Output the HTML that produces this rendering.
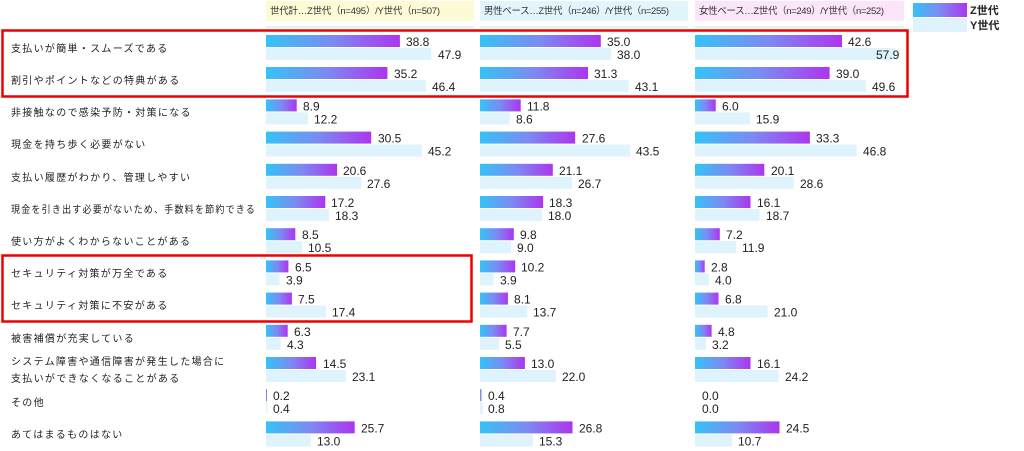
<!DOCTYPE html>
<html><head><meta charset="utf-8"><style>
body{margin:0;background:#fff;width:1024px;height:451px;overflow:hidden}
svg{display:block}
.l{font-family:"Liberation Sans","Noto Sans CJK JP",sans-serif;font-size:10px;fill:#222;letter-spacing:1.3px}
.v{font-family:"Liberation Sans",sans-serif;font-size:12px;fill:#222}
.h{font-family:"Liberation Sans","Noto Sans CJK JP",sans-serif;font-size:9.5px;fill:#333}
.z{fill:url(#g)}.y{fill:#def3fb}
</style></head><body>
<svg width="1024" height="451" xmlns="http://www.w3.org/2000/svg">
<defs><linearGradient id="g" x1="0" x2="1" y1="0" y2="0"><stop offset="0" stop-color="#35c3f6"/><stop offset="0.5" stop-color="#7c8af2"/><stop offset="1" stop-color="#ad35ef"/></linearGradient></defs>
<rect x="266" y="1" width="208" height="20" fill="#fdfbd6"/><text class="h" x="270" y="14" textLength="170">世代計…Z世代（n=495）/Y世代（n=507)</text>
<rect x="480" y="1" width="208" height="20" fill="#e1f5fb"/><text class="h" x="484" y="14" textLength="185">男性ベース…Z世代（n=246）/Y世代（n=255)</text>
<rect x="695" y="1" width="209" height="20" fill="#fce4fa"/><text class="h" x="699" y="14" textLength="185">女性ベース…Z世代（n=249）/Y世代（n=252)</text>
<rect x="913" y="3" width="54" height="14" class="z"/><rect x="913" y="18" width="54" height="14" class="y"/>
<text x="970" y="14" style="font-family:'Liberation Sans','Noto Sans CJK JP',sans-serif;font-size:11px;font-weight:bold;fill:#222">Z世代</text>
<text x="970" y="29" style="font-family:'Liberation Sans','Noto Sans CJK JP',sans-serif;font-size:11px;font-weight:bold;fill:#222">Y世代</text>
<g stroke="#ddd"><line x1="266" y1="27" x2="474" y2="27"/><line x1="480" y1="27" x2="688" y2="27"/><line x1="695" y1="27" x2="904" y2="27"/></g>

<text class="l" x="11" y="52">支払いが簡単・スムーズである</text>
<text class="l" x="11" y="84">割引やポイントなどの特典がある</text>
<text class="l" x="11" y="116">非接触なので感染予防・対策になる</text>
<text class="l" x="11" y="148">現金を持ち歩く必要がない</text>
<text class="l" x="11" y="181">支払い履歴がわかり、管理しやすい</text>
<text class="l" x="11" y="213" textLength="245" lengthAdjust="spacingAndGlyphs">現金を引き出す必要がないため、手数料を節約できる</text>
<text class="l" x="11" y="245">使い方がよくわからないことがある</text>
<text class="l" x="11" y="277">セキュリティ対策が万全である</text>
<text class="l" x="11" y="309">セキュリティ対策に不安がある</text>
<text class="l" x="11" y="342">被害補償が充実している</text>
<text class="l" x="11" y="365">システム障害や通信障害が発生した場合に</text>
<text class="l" x="11" y="382">支払いができなくなることがある</text>
<text class="l" x="11" y="406">その他</text>
<text class="l" x="11" y="438">あてはまるものはない</text>

<g>
<rect class="z" x="266" y="35" width="133.9" height="12"/><rect class="y" x="266" y="48" width="165.3" height="12"/>
<text class="v" x="406" y="46">38.8</text><text class="v" x="438" y="59">47.9</text>
<rect class="z" x="480" y="35" width="120.8" height="12"/><rect class="y" x="480" y="48" width="131.1" height="12"/>
<text class="v" x="607" y="46">35.0</text><text class="v" x="617" y="59">38.0</text>
<rect class="z" x="695" y="35" width="147" height="12"/><rect class="y" x="695" y="48" width="199.8" height="12"/>
<text class="v" x="848" y="46">42.6</text><text class="v" x="876" y="59">57.9</text>

<rect class="z" x="266" y="67" width="121.4" height="12"/><rect class="y" x="266" y="80" width="160.1" height="12"/>
<text class="v" x="394" y="78">35.2</text><text class="v" x="432" y="91">46.4</text>
<rect class="z" x="480" y="67" width="108" height="12"/><rect class="y" x="480" y="80" width="148.7" height="12"/>
<text class="v" x="594" y="78">31.3</text><text class="v" x="635" y="91">43.1</text>
<rect class="z" x="695" y="67" width="134.6" height="12"/><rect class="y" x="695" y="80" width="171.1" height="12"/>
<text class="v" x="836" y="78">39.0</text><text class="v" x="872" y="91">49.6</text>

<rect class="z" x="266" y="99.4" width="30.7" height="12"/><rect class="y" x="266" y="112.4" width="42.1" height="12"/>
<text class="v" x="303" y="110.4">8.9</text><text class="v" x="314" y="123.4">12.2</text>
<rect class="z" x="480" y="99.4" width="40.7" height="12"/><rect class="y" x="480" y="112.4" width="29.7" height="12"/>
<text class="v" x="527" y="110.4">11.8</text><text class="v" x="516" y="123.4">8.6</text>
<rect class="z" x="695" y="99.4" width="20.7" height="12"/><rect class="y" x="695" y="112.4" width="54.9" height="12"/>
<text class="v" x="722" y="110.4">6.0</text><text class="v" x="756" y="123.4">15.9</text>

<rect class="z" x="266" y="131.6" width="105.2" height="12"/><rect class="y" x="266" y="144.6" width="155.9" height="12"/>
<text class="v" x="378" y="142.6">30.5</text><text class="v" x="428" y="155.6">45.2</text>
<rect class="z" x="480" y="131.6" width="95.2" height="12"/><rect class="y" x="480" y="144.6" width="150.1" height="12"/>
<text class="v" x="582" y="142.6">27.6</text><text class="v" x="636" y="155.6">43.5</text>
<rect class="z" x="695" y="131.6" width="114.9" height="12"/><rect class="y" x="695" y="144.6" width="161.5" height="12"/>
<text class="v" x="816" y="142.6">33.3</text><text class="v" x="863" y="155.6">46.8</text>

<rect class="z" x="266" y="163.8" width="71.1" height="12"/><rect class="y" x="266" y="176.8" width="95.2" height="12"/>
<text class="v" x="343" y="174.8">20.6</text><text class="v" x="367" y="187.8">27.6</text>
<rect class="z" x="480" y="163.8" width="72.8" height="12"/><rect class="y" x="480" y="176.8" width="92.1" height="12"/>
<text class="v" x="559" y="174.8">21.1</text><text class="v" x="578" y="187.8">26.7</text>
<rect class="z" x="695" y="163.8" width="69.3" height="12"/><rect class="y" x="695" y="176.8" width="98.7" height="12"/>
<text class="v" x="771" y="174.8">20.1</text><text class="v" x="800" y="187.8">28.6</text>

<rect class="z" x="266" y="196" width="59.3" height="12"/><rect class="y" x="266" y="209" width="63.1" height="12"/>
<text class="v" x="331" y="207">17.2</text><text class="v" x="335" y="220">18.3</text>
<rect class="z" x="480" y="196" width="63.1" height="12"/><rect class="y" x="480" y="209" width="62.1" height="12"/>
<text class="v" x="549" y="207">18.3</text><text class="v" x="548" y="220">18.0</text>
<rect class="z" x="695" y="196" width="55.5" height="12"/><rect class="y" x="695" y="209" width="64.5" height="12"/>
<text class="v" x="757" y="207">16.1</text><text class="v" x="766" y="220">18.7</text>

<rect class="z" x="266" y="228.2" width="29.3" height="12"/><rect class="y" x="266" y="241.2" width="36.2" height="12"/>
<text class="v" x="302" y="239.2">8.5</text><text class="v" x="308" y="252.2">10.5</text>
<rect class="z" x="480" y="228.2" width="33.8" height="12"/><rect class="y" x="480" y="241.2" width="31.1" height="12"/>
<text class="v" x="520" y="239.2">9.8</text><text class="v" x="517" y="252.2">9.0</text>
<rect class="z" x="695" y="228.2" width="24.8" height="12"/><rect class="y" x="695" y="241.2" width="41.1" height="12"/>
<text class="v" x="726" y="239.2">7.2</text><text class="v" x="742" y="252.2">11.9</text>

<rect class="z" x="266" y="260.4" width="22.4" height="12"/><rect class="y" x="266" y="273.4" width="13.5" height="12"/>
<text class="v" x="295" y="271.4">6.5</text><text class="v" x="286" y="284.4">3.9</text>
<rect class="z" x="480" y="260.4" width="35.2" height="12"/><rect class="y" x="480" y="273.4" width="13.5" height="12"/>
<text class="v" x="521" y="271.4">10.2</text><text class="v" x="500" y="284.4">3.9</text>
<rect class="z" x="695" y="260.4" width="9.7" height="12"/><rect class="y" x="695" y="273.4" width="13.8" height="12"/>
<text class="v" x="711" y="271.4">2.8</text><text class="v" x="715" y="284.4">4.0</text>

<rect class="z" x="266" y="292.6" width="25.9" height="12"/><rect class="y" x="266" y="305.6" width="60" height="12"/>
<text class="v" x="298" y="303.6">7.5</text><text class="v" x="332" y="316.6">17.4</text>
<rect class="z" x="480" y="292.6" width="27.9" height="12"/><rect class="y" x="480" y="305.6" width="47.3" height="12"/>
<text class="v" x="514" y="303.6">8.1</text><text class="v" x="533" y="316.6">13.7</text>
<rect class="z" x="695" y="292.6" width="23.5" height="12"/><rect class="y" x="695" y="305.6" width="72.5" height="12"/>
<text class="v" x="725" y="303.6">6.8</text><text class="v" x="774" y="316.6">21.0</text>

<rect class="z" x="266" y="324.8" width="21.7" height="12"/><rect class="y" x="266" y="337.8" width="14.8" height="12"/>
<text class="v" x="294" y="335.8">6.3</text><text class="v" x="287" y="348.8">4.3</text>
<rect class="z" x="480" y="324.8" width="26.6" height="12"/><rect class="y" x="480" y="337.8" width="19" height="12"/>
<text class="v" x="513" y="335.8">7.7</text><text class="v" x="505" y="348.8">5.5</text>
<rect class="z" x="695" y="324.8" width="16.6" height="12"/><rect class="y" x="695" y="337.8" width="11" height="12"/>
<text class="v" x="718" y="335.8">4.8</text><text class="v" x="712" y="348.8">3.2</text>

<rect class="z" x="266" y="357" width="50" height="12"/><rect class="y" x="266" y="370" width="79.7" height="12"/>
<text class="v" x="323" y="368">14.5</text><text class="v" x="352" y="381">23.1</text>
<rect class="z" x="480" y="357" width="44.9" height="12"/><rect class="y" x="480" y="370" width="75.9" height="12"/>
<text class="v" x="531" y="368">13.0</text><text class="v" x="562" y="381">22.0</text>
<rect class="z" x="695" y="357" width="55.5" height="12"/><rect class="y" x="695" y="370" width="83.5" height="12"/>
<text class="v" x="757" y="368">16.1</text><text class="v" x="785" y="381">24.2</text>

<rect class="z" x="266" y="389.2" width="1" height="12"/><rect class="y" x="266" y="402.2" width="1.4" height="12"/>
<text class="v" x="273" y="400.2">0.2</text><text class="v" x="273" y="413.2">0.4</text>
<rect class="z" x="480" y="389.2" width="1.4" height="12"/><rect class="y" x="480" y="402.2" width="2.8" height="12"/>
<text class="v" x="488" y="400.2">0.4</text><text class="v" x="488" y="413.2">0.8</text>
<text class="v" x="702" y="400.2">0.0</text><text class="v" x="702" y="413.2">0.0</text>

<rect class="z" x="266" y="421.4" width="88.7" height="12"/><rect class="y" x="266" y="434.4" width="44.9" height="12"/>
<text class="v" x="361" y="432.4">25.7</text><text class="v" x="317" y="445.4">13.0</text>
<rect class="z" x="480" y="421.4" width="92.5" height="12"/><rect class="y" x="480" y="434.4" width="52.8" height="12"/>
<text class="v" x="579" y="432.4">26.8</text><text class="v" x="539" y="445.4">15.3</text>
<rect class="z" x="695" y="421.4" width="84.5" height="12"/><rect class="y" x="695" y="434.4" width="36.9" height="12"/>
<text class="v" x="786" y="432.4">24.5</text><text class="v" x="738" y="445.4">10.7</text>
</g>

<rect x="2.5" y="30.5" width="905" height="66" fill="none" stroke="#e00" stroke-width="2.5"/>
<rect x="2.5" y="255.5" width="469" height="66" fill="none" stroke="#e00" stroke-width="2.5"/>
</svg>
</body></html>
